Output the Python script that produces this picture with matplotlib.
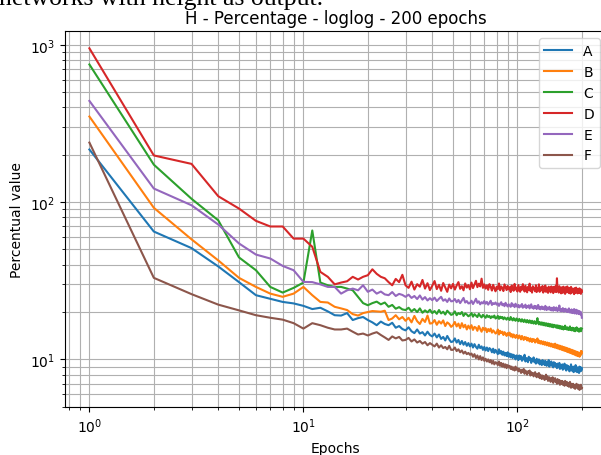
import numpy as np
import matplotlib
matplotlib.use('Agg')
import matplotlib.pyplot as plt

epochs = np.arange(1, 201)
labels = ['A', 'B', 'C', 'D', 'E', 'F']

a_vals = [216, 65, 51, 39, 31, 25.6, 24.3, 23.2, 22.7, 21.9,
          20.9, 21.3, 20.2, 19.1, 19.0, 19.7, 17.8, 18.3, 18.6, 17.8,
          17.2, 16.5, 17.4, 16.8, 16.5, 17.1, 15.9, 16.3, 15.6, 15.3,
          16.0, 15.1, 14.7, 15.5, 14.6, 14.9, 14.2, 15.0, 14.3, 14.0,
          14.6, 13.8, 14.4, 13.5, 13.9, 13.2, 14.1, 13.4, 12.9, 13.0,
          13.6, 12.8, 13.3, 12.5, 13.1, 12.4, 12.9, 12.2, 12.7, 12.1,
          12.6, 11.9, 12.5, 12.0, 11.7, 12.4, 11.8, 12.1, 11.5, 12.0,
          11.4, 11.9, 11.3, 11.8, 11.6, 11.1, 11.7, 11.0, 11.5, 11.2,
          10.8, 11.6, 10.9, 11.3, 10.7, 11.2, 10.6, 11.0, 10.5, 11.1,
          10.4, 10.9, 10.3, 10.8, 10.2, 10.7, 10.5, 10.0, 10.6, 10.4,
          9.9, 10.6, 10.1, 10.5, 9.8, 10.3, 10.0, 10.7, 9.7, 10.2,
          10.1, 9.6, 10.4, 9.9, 10.2, 9.5, 10.0, 9.8, 10.3, 9.6,
          9.9, 9.4, 10.1, 9.7, 9.5, 10.0, 9.3, 9.8, 9.6, 9.2,
          9.9, 9.4, 9.7, 9.2, 9.8, 9.5, 9.1, 9.6, 9.3, 9.9,
          9.0, 9.5, 9.2, 9.7, 9.1, 9.4, 8.9, 9.6, 9.2, 9.5,
          9.0, 9.3, 8.8, 9.4, 9.1, 8.9, 9.5, 8.7, 9.2, 9.0,
          8.8, 9.3, 8.6, 9.1, 8.9, 9.4, 8.7, 9.0, 8.5, 9.2,
          8.8, 9.1, 8.6, 9.0, 8.4, 8.9, 8.7, 9.3, 8.5, 8.8,
          8.6, 9.0, 8.3, 8.9, 8.7, 8.4, 9.2, 8.6, 8.8, 8.3,
          8.9, 8.5, 8.7, 8.2, 9.0, 8.6, 8.4, 8.9, 8.5, 8.8]

b_vals = [350, 92, 58, 42.6, 33, 28.9, 26.2, 25.0, 26.2, 28.9,
          25.6, 23.2, 23.0, 21.6, 21.1, 20.6, 19.4, 19.0, 19.7, 20.0,
          20.3, 20.2, 20.1, 20.4, 17.8, 18.2, 19.1, 18.0, 18.6, 17.6,
          18.4, 17.2, 18.9, 17.5, 16.8, 18.1, 17.3, 19.0, 16.9, 17.0,
          17.8, 16.6, 17.5, 16.9, 17.7, 16.3, 17.2, 16.8, 16.1, 16.5,
          17.3, 16.2, 16.9, 15.8, 17.0, 16.0, 16.6, 15.5, 16.4, 15.7,
          16.5, 15.4, 16.1, 15.9, 15.2, 16.3, 15.6, 15.0, 15.9, 15.4,
          15.8, 14.9, 15.6, 15.1, 15.7, 14.8, 15.3, 15.0, 14.6, 14.8,
          15.5, 14.4, 15.2, 14.7, 15.0, 14.3, 14.9, 14.6, 14.1, 14.7,
          14.3, 14.8, 14.0, 14.5, 13.8, 14.4, 14.1, 13.7, 14.3, 14.0,
          13.6, 14.2, 13.9, 13.4, 14.1, 13.7, 13.3, 13.9, 13.5, 13.8,
          13.2, 13.7, 13.4, 13.0, 13.6, 13.3, 12.9, 13.5, 13.1, 13.4,
          12.8, 13.3, 13.0, 13.6, 12.7, 13.2, 12.9, 12.6, 13.1, 12.8,
          12.5, 13.0, 12.7, 12.4, 12.9, 12.6, 12.3, 12.8, 12.5, 12.2,
          12.7, 12.4, 12.1, 12.6, 12.3, 12.0, 12.5, 12.2, 11.9, 12.6,
          12.1, 11.8, 12.4, 12.0, 11.7, 12.3, 11.9, 11.6, 12.2, 11.8,
          11.5, 12.1, 11.7, 11.4, 12.0, 11.6, 11.3, 11.9, 11.5, 11.2,
          11.8, 11.4, 11.1, 11.7, 11.3, 11.0, 11.6, 11.2, 10.9, 11.5,
          11.1, 10.8, 11.4, 11.0, 10.7, 11.3, 10.9, 10.6, 11.2, 10.8,
          10.5, 11.1, 10.7, 11.0, 10.4, 10.9, 10.6, 11.3, 10.8, 11.2]

c_vals = [750, 173, 105, 76.6, 44.5, 36.9, 28.9, 26.6, 28.5, 30.8,
          66, 30.8, 29.6, 28.9, 28.9, 28.2, 27.5, 25.0, 22.8, 22.1,
          22.8, 23.3, 22.4, 23.0, 21.6, 22.2, 21.0, 21.5, 20.8, 20.6,
          21.3, 20.2, 20.9, 20.0, 21.1, 19.8, 20.5, 19.9, 20.7, 19.7,
          20.3, 19.5, 20.6, 19.6, 20.1, 19.3, 20.4, 19.8, 19.2, 19.4,
          20.2, 19.1, 19.7, 19.4, 20.0, 18.9, 19.6, 19.3, 18.8, 19.1,
          19.7, 18.7, 19.4, 19.0, 18.6, 19.5, 18.9, 18.5, 19.2, 18.8,
          18.4, 19.1, 18.6, 18.9, 18.3, 18.8, 18.5, 19.0, 18.2, 18.4,
          18.9, 18.1, 18.7, 18.3, 18.6, 18.0, 18.5, 18.2, 17.9, 18.4,
          18.1, 17.8, 18.6, 18.0, 17.7, 18.3, 17.9, 17.6, 18.2, 17.9,
          17.5, 18.1, 17.7, 17.4, 18.0, 17.6, 17.3, 17.9, 17.5, 17.2,
          17.8, 17.4, 17.1, 17.7, 17.3, 17.0, 17.6, 17.2, 16.9, 17.5,
          17.1, 16.8, 17.4, 18.3, 17.0, 16.7, 17.3, 16.9, 16.6, 17.2,
          16.8, 16.5, 17.1, 16.7, 16.4, 17.0, 16.6, 16.3, 16.9, 16.5,
          16.2, 16.8, 16.4, 16.1, 16.7, 16.3, 16.0, 16.6, 16.2, 16.5,
          16.1, 15.9, 16.5, 16.1, 15.8, 16.4, 16.0, 15.7, 16.3, 15.9,
          15.6, 16.2, 15.8, 15.5, 16.1, 15.7, 16.4, 15.6, 15.9, 15.5,
          16.0, 15.6, 15.4, 15.9, 15.5, 16.2, 15.4, 15.8, 15.3, 15.7,
          15.9, 15.4, 15.2, 15.8, 15.5, 15.1, 15.7, 15.3, 16.0, 15.4,
          15.2, 15.7, 15.3, 15.0, 15.6, 15.2, 15.8, 15.1, 15.5, 15.7]

d_vals = [950, 198, 175, 109, 91, 76, 70, 70, 58.6, 58.6,
          52, 36, 33.5, 30.0, 30.8, 31.4, 33.5, 32.2, 33.5, 34.3,
          37.4, 35.0, 33.5, 32.8, 31.0, 29.6, 32.5, 31.0, 34.5, 29.6,
          28.5, 31.2, 27.8, 30.1, 29.0, 32.0, 28.2, 30.5, 27.6, 29.4,
          31.5, 28.0, 29.8, 27.3, 30.6, 28.7, 26.9, 29.9, 28.3, 30.2,
          27.8, 29.5, 31.0, 28.1, 29.2, 27.5, 30.4, 28.6, 29.7, 27.9,
          30.8, 28.4, 29.9, 31.6, 28.8, 30.3, 29.1, 32.6, 28.5, 30.0,
          28.2, 29.6, 27.7, 30.1, 28.9, 27.4, 29.8, 28.3, 27.1, 29.0,
          28.0, 30.4, 27.5, 29.1, 28.4, 27.2, 30.0, 28.7, 27.6, 29.3,
          27.9, 28.8, 26.8, 29.5, 28.1, 27.3, 30.2, 27.8, 28.6, 27.0,
          29.7, 28.3, 26.9, 29.0, 27.7, 30.1, 28.2, 27.0, 29.4, 28.0,
          26.7, 28.9, 27.6, 30.3, 27.2, 28.5, 26.6, 29.2, 27.9, 28.4,
          27.1, 29.6, 26.8, 28.3, 27.5, 30.0, 26.9, 28.7, 27.4, 28.1,
          29.3, 26.6, 28.0, 27.2, 29.5, 26.9, 28.4, 27.7, 26.5, 29.0,
          27.6, 28.2, 26.7, 29.1, 27.3, 28.6, 26.4, 28.9, 27.5, 27.0,
          29.4, 26.8, 32.8, 27.4, 28.5, 26.6, 29.2, 27.1, 28.0, 26.3,
          28.7, 27.6, 26.5, 29.0, 27.2, 28.3, 26.1, 28.8, 27.4, 26.7,
          29.1, 26.9, 27.8, 26.4, 28.5, 27.3, 26.2, 28.9, 27.0, 26.6,
          28.2, 26.8, 27.9, 26.0, 28.4, 27.1, 26.5, 28.6, 26.9, 27.6,
          26.3, 28.1, 27.0, 26.4, 28.3, 26.7, 27.5, 26.1, 27.8, 26.9]

e_vals = [440, 122, 95.5, 72, 54.6, 46.4, 43.8, 39.3, 36.9, 31.1,
          31.0, 30.0, 28.9, 28.9, 26.2, 27.5, 28.2, 27.5, 29.6, 26.9,
          27.8, 26.2, 27.0, 25.9, 25.6, 26.8, 25.3, 26.1, 25.7, 25.0,
          25.8, 24.6, 25.3, 24.2, 25.5, 24.0, 24.9, 23.7, 24.5, 23.8,
          24.7, 23.5, 24.3, 25.0, 23.6, 24.1, 23.2, 24.4, 23.4, 23.5,
          24.2, 23.1, 23.9, 22.8, 23.7, 24.6, 23.0, 23.5, 22.7, 22.8,
          23.6, 22.5, 23.3, 24.3, 22.9, 23.4, 22.4, 23.1, 22.7, 23.5,
          22.6, 23.2, 22.3, 22.9, 23.6, 22.2, 22.8, 22.5, 23.0, 22.3,
          22.7, 21.9, 22.6, 23.1, 22.1, 22.5, 21.8, 22.9, 22.2, 21.7,
          22.4, 22.0, 21.6, 22.8, 21.9, 22.3, 21.5, 22.6, 21.8, 21.6,
          22.2, 21.4, 22.0, 21.7, 22.5, 21.3, 21.9, 21.6, 22.3, 21.2,
          21.8, 21.5, 22.1, 21.1, 21.7, 22.4, 21.3, 21.6, 21.0, 21.9,
          21.4, 21.8, 20.9, 21.5, 22.2, 21.0, 21.6, 20.8, 21.3, 21.7,
          20.9, 21.5, 21.1, 20.7, 21.9, 21.2, 20.6, 21.4, 21.0, 20.8,
          21.6, 20.7, 21.2, 20.5, 21.3, 20.9, 20.4, 21.5, 20.8, 21.0,
          20.5, 21.4, 20.7, 20.3, 21.1, 20.6, 22.0, 20.4, 20.9, 20.2,
          20.8, 20.3, 21.2, 20.5, 20.1, 20.9, 20.4, 21.0, 20.2, 20.6,
          20.0, 20.7, 20.3, 21.1, 19.9, 20.5, 20.2, 19.8, 20.8, 20.1,
          19.7, 20.6, 20.0, 20.9, 19.6, 20.4, 19.9, 20.7, 19.5, 20.2,
          20.5, 19.6, 20.1, 19.4, 20.3, 19.8, 19.3, 20.0, 19.5, 18.4]

f_vals = [239, 33, 26, 22.3, 20.5, 19.1, 18.4, 17.9, 17.0, 15.7,
          17.0, 16.5, 15.9, 15.5, 15.5, 15.7, 15.0, 14.4, 14.6, 14.2,
          14.6, 14.9, 14.3, 13.8, 13.3, 14.0, 13.6, 13.9, 13.2, 13.3,
          13.7, 13.0, 13.4, 12.8, 13.1, 12.6, 12.9, 12.3, 12.7, 12.4,
          12.1, 12.6, 11.9, 12.3, 11.8, 12.0, 11.6, 12.2, 11.5, 11.5,
          11.9, 11.3, 11.6, 11.1, 11.4, 10.9, 11.2, 10.8, 11.0, 10.7,
          10.9, 10.4, 10.8, 10.2, 10.6, 10.0, 10.5, 9.9, 10.3, 9.8,
          10.1, 9.7, 10.0, 9.6, 9.9, 9.4, 9.8, 9.3, 9.6, 9.5,
          9.2, 9.7, 9.1, 9.5, 9.0, 9.4, 8.9, 9.3, 8.8, 9.2,
          8.9, 9.1, 8.7, 9.0, 8.6, 8.9, 8.5, 9.0, 8.6, 8.8,
          8.4, 8.7, 8.5, 8.2, 8.6, 8.3, 8.7, 8.1, 8.5, 8.3,
          8.0, 8.4, 8.2, 8.5, 7.9, 8.3, 8.0, 8.2, 7.8, 8.1,
          8.3, 7.9, 7.7, 8.1, 7.8, 8.2, 7.6, 8.0, 7.8, 7.5,
          7.9, 7.6, 7.8, 7.4, 7.7, 8.0, 7.5, 7.8, 7.3, 7.6,
          7.7, 7.4, 7.2, 7.6, 7.3, 7.7, 7.1, 7.5, 7.4, 7.6,
          7.2, 7.4, 7.0, 7.5, 7.3, 7.1, 7.4, 6.9, 7.2, 7.3,
          7.0, 7.3, 6.9, 7.2, 7.1, 6.8, 7.3, 7.0, 6.9, 7.2,
          6.8, 7.1, 6.9, 6.7, 7.0, 7.2, 6.8, 6.6, 7.0, 6.9,
          6.7, 7.0, 6.6, 6.9, 6.8, 6.5, 6.9, 6.7, 7.0, 6.6,
          6.8, 6.5, 6.9, 6.7, 6.4, 6.8, 6.6, 6.9, 6.5, 6.6]

series = [a_vals, b_vals, c_vals, d_vals, e_vals, f_vals]

fig = plt.figure(figsize=(6.01, 4.56), dpi=100)
# axes runs a little past the right edge, like the cropped original
ax = fig.add_axes([0.1078, 0.1053, 0.9013, 0.824])

for lab, vals in zip(labels, series):
    ax.plot(epochs, vals, label=lab)

ax.set_xscale('log')
ax.set_yscale('log')
ax.grid(True, which='both')
ax.set_title('H - Percentage - loglog - 200 epochs')
ax.set_xlabel('Epochs')
ax.set_ylabel('Percentual value')
ax.legend(loc='upper right')

# cut-off line of document text above the figure
fig.text(-0.002, 0.99, 'networks with height as output.', family='Liberation Serif',
         fontsize=18.5, va='baseline', ha='left')

fig.savefig('out.png', dpi=100)
